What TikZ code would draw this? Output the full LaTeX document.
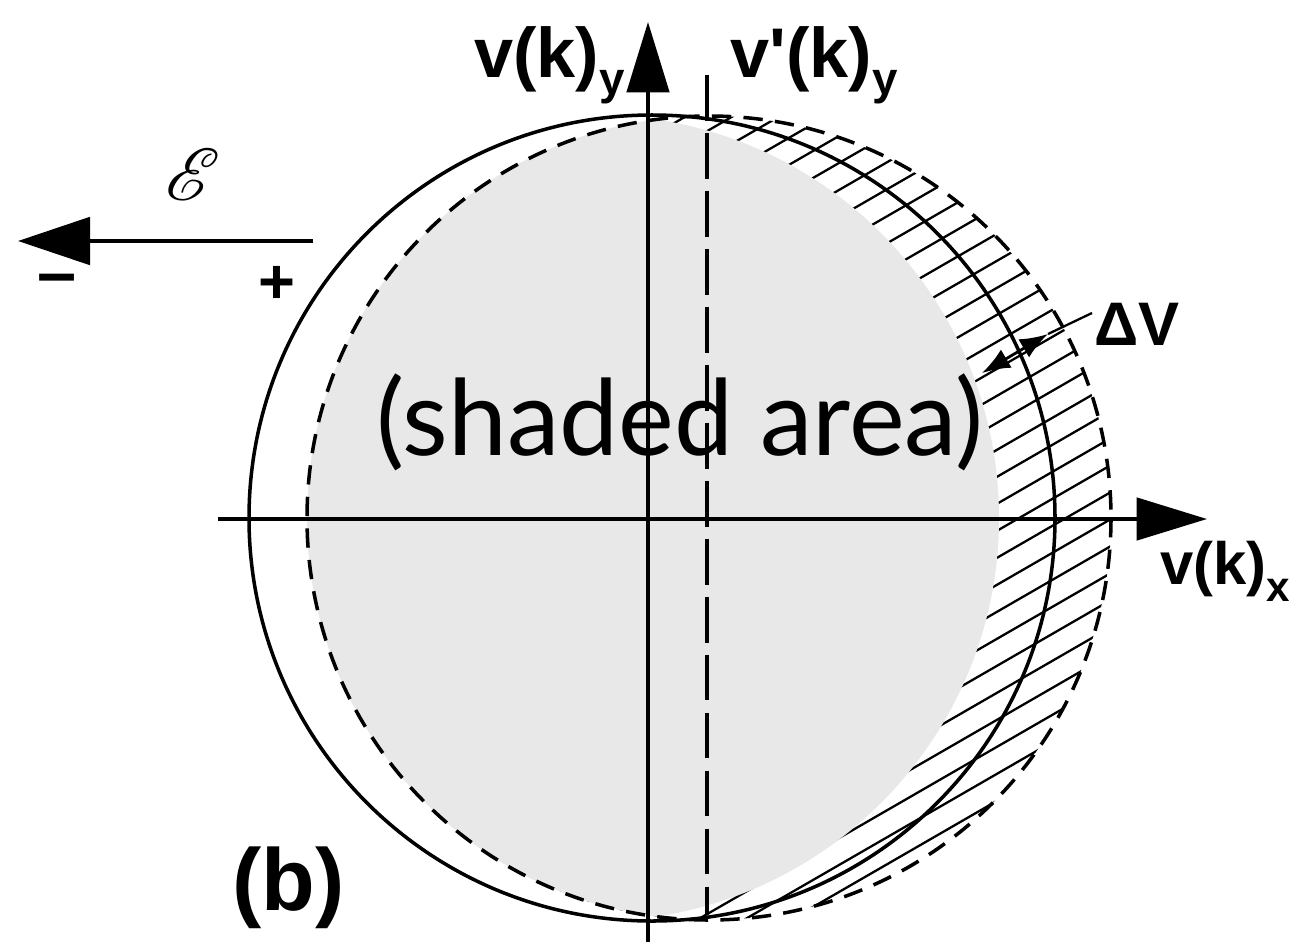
\documentclass[tikz,border=0pt]{standalone}
\usepackage{fontspec}
\usepackage{mathrsfs}
\setmainfont{Liberation Sans}
\newfontfamily\latofont{Lato}
\usetikzlibrary{arrows.meta}
\definecolor{stip}{gray}{0.91}
\tikzset{
  solidc/.style={line width=2pt, black},
  dashc/.style={line width=2pt, black, dash pattern=on 11pt off 7pt},
  axisline/.style={line width=2.2pt, black},
  hatchline/.style={line width=1.3pt, black},
  lbl/.style={inner sep=0pt, font=\bfseries\fontsize{40}{40}\selectfont},
  bigarrow/.style={-{Triangle[length=40pt,width=24pt]}},
}
\begin{document}
\begin{tikzpicture}[x=0.02cm,y=-0.02cm]
\useasboundingbox (0,0) rectangle (1297,943);
\coordinate (C) at (652,518);
\coordinate (D) at (709,518);
\coordinate (L) at (596,518);

% stippled and hatched regions
\begin{scope}
  \clip (D) circle[radius=402];
  \fill[white] (300,100) rectangle (1120,930);
  \foreach \i in {0,...,46} {
    \draw[hatchline] (560,\i*27) -- ++(700,-404);
  }
  \fill[stip] (L) circle[radius=403];
\end{scope}

% circles
\draw[solidc] (C) circle[radius=403];
\draw[dashc] (D) circle[radius=402];

% axes
\coordinate (ybot) at (648,942);
\coordinate (ytop) at (648,22);
\coordinate (xl) at (218,519);
\coordinate (xr) at (1207,519);
\draw[axisline, bigarrow] (ybot) -- (ytop);
\draw[axisline, bigarrow] (xl) -- (xr);
\coordinate (dtop) at (707,75);
\coordinate (dbot) at (707,915);
\draw[axisline, line width=2pt, dash pattern=on 26pt off 7pt] (dtop) -- (dbot);

% field arrow
\coordinate (Es) at (313,241);
\coordinate (Ee) at (18,241);
\draw[axisline, -{Triangle[length=41pt,width=27pt]}] (Es) -- (Ee);
\node[inner sep=0pt] (E) at (193,175) {\scalebox{4.2}{$\mathscr{E}$}};
\node[lbl] (minus) at (57,285) {\fontsize{40}{40}\selectfont –};
\node[lbl] (plus) at (277,285) {\fontsize{36}{36}\selectfont +};

% Delta V marker
\coordinate (da) at (982,373);
\coordinate (db) at (1048,334);
\coordinate (dl) at (1092,313);
\draw[line width=1.6pt, {Latex[length=16pt,width=12pt]}-{Latex[length=16pt,width=12pt]}] (da) -- (db);
\draw[line width=1.3pt] (db) -- (dl);
\node[lbl, anchor=base west, font=\bfseries\fontsize{35}{35}\selectfont] (dV) at (1094,345) {ΔV};

% axis labels
\node[lbl, anchor=base west] (vy) at (474,77) {v(k)\raisebox{-0.25em}{\fontsize{26}{26}\selectfont y}};
\node[lbl, anchor=base west] (vpy) at (730,77) {v\textquotesingle(k)\raisebox{-0.25em}{\fontsize{26}{26}\selectfont y}};
\node[lbl, anchor=base west, font=\bfseries\fontsize{34}{34}\selectfont] (vx) at (1160,584) {v(k)\raisebox{-0.3em}{\fontsize{24}{24}\selectfont x}};

\node[lbl, anchor=base west, font=\bfseries\fontsize{50}{50}\selectfont] (b) at (232,910) {(b)};

\node[inner sep=0pt, anchor=base, font=\latofont\fontsize{60}{60}\selectfont] (sh) at (680,455) {(shaded area)};
\end{tikzpicture}
\end{document}
